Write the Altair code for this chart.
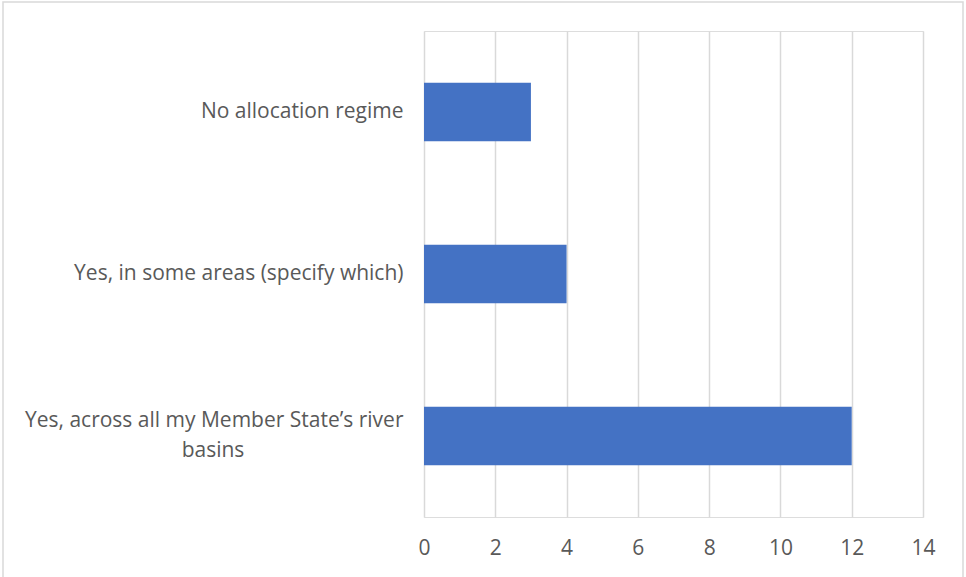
import altair as alt
import pandas as pd

# Survey answers and number of Member States giving each answer
categories = [
    "No allocation regime",
    "Yes, in some areas (specify which)",
    "Yes, across all my Member State’s river basins",
]
counts = [3, 4, 12]

# Long answer wrapped onto two lines; the second line is centred under the first
long_answer = categories[2]
first_line = "Yes, across all my Member State’s river"
second_line = "basins"

df = pd.DataFrame({"answer": categories, "count": counts})
wrap_df = pd.DataFrame({"answer": [long_answer], "text": [second_line]})

is_long = f"datum.label == '{long_answer}'"
label_expr = f"{is_long} ? '{first_line}' : datum.label"

FONT = "Open Sans"
FONT_SIZE = 21
LINE_GAP = 15
TEXT_GREY = "#595959"
GRID_GREY = "#D9D9D9"

y_enc = alt.Y(
    "answer:N",
    sort=categories,
    scale=alt.Scale(paddingInner=0.64, paddingOuter=0.32),
    axis=alt.Axis(
        title=None,
        domain=False,
        ticks=False,
        grid=False,
        labelFont=FONT,
        labelFontSize=FONT_SIZE,
        labelColor=TEXT_GREY,
        labelPadding=21,
        labelLimit=500,
        labelExpr=label_expr,
        labelOffset={"condition": {"test": is_long, "value": -LINE_GAP}, "value": 0},
    ),
)

bars = alt.Chart(df).mark_bar(color="#4472C4").encode(
    x=alt.X(
        "count:Q",
        scale=alt.Scale(domain=[0, 14], nice=False),
        axis=alt.Axis(
            values=list(range(0, 15, 2)),
            title=None,
            domain=False,
            ticks=False,
            grid=True,
            gridColor=GRID_GREY,
            gridWidth=1.5,
            labelFont=FONT,
            labelFontSize=FONT_SIZE,
            labelColor=TEXT_GREY,
            labelBaseline="middle",
            labelPadding=31,
            labelFlush=False,
        ),
    ),
    y=y_enc,
)

# Second line of the wrapped category label
wrap_text = alt.Chart(wrap_df).mark_text(
    font=FONT,
    fontSize=FONT_SIZE,
    color=TEXT_GREY,
    align="center",
    baseline="middle",
    dx=-211,
    dy=LINE_GAP,
).encode(
    y=alt.Y("answer:N", sort=categories),
    x=alt.value(0),
    text="text:N",
)

# Light frame around the whole chart
frame = alt.Chart(alt.Data(values=[{}])).mark_rect(
    fill=None, stroke=GRID_GREY, strokeWidth=1.5
).encode(
    x=alt.value(-421), x2=alt.value(539), y=alt.value(-29), y2=alt.value(560)
)

chart = (
    alt.layer(bars, wrap_text, frame)
    .properties(
        width=499,
        height=486,
        autosize=alt.AutoSizeParams(type="none"),
        padding={"left": 424, "top": 31, "right": 43, "bottom": 60},
    )
    .configure_view(stroke=None)
    .configure(background="white")
)

chart.save("out.html", embed_options={"renderer": "svg", "actions": False})
